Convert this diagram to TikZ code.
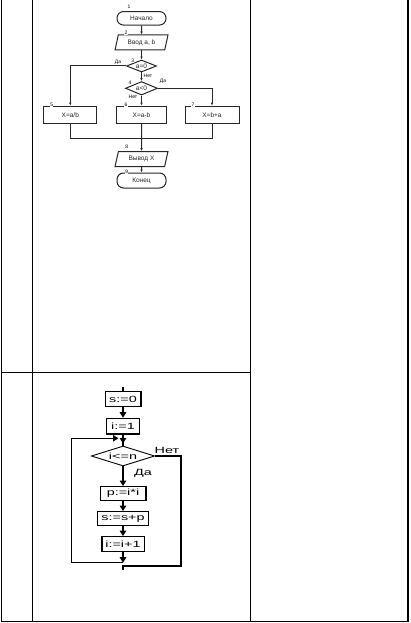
\documentclass[tikz,border=0pt]{standalone}
\usepackage{fontspec}
\setmainfont{Liberation Sans}
\newfontfamily\wideface[FakeStretch=1.6]{Liberation Sans}
\usetikzlibrary{positioning,arrows.meta,shapes.geometric,calc}

\begin{document}
\begin{tikzpicture}[
        x=1pt, y=-1pt,
        font=\fontsize{6.5}{7.5}\selectfont,
        >={Latex[length=2.8pt,width=2.4pt]},
        grid/.style={line width=1.6pt},
        wire/.style={black!85, line width=1pt},
        flow/.style={wire, ->},
        term/.style={rectangle, draw, wire, rounded corners=6.5pt,
            minimum width=49, minimum height=13.5, inner sep=0},
        io/.style={trapezium, draw, wire, trapezium left angle=72,
            trapezium right angle=108, trapezium stretches=true,
            minimum width=53, minimum height=15, inner sep=0},
        cond/.style={diamond, draw, wire, aspect=2.5, inner sep=0},
        proc/.style={rectangle, draw, wire, minimum height=17.3, inner sep=0},
        tag/.style={font=\fontsize{5}{6}\selectfont, inner sep=0},
        num/.style={font=\fontsize{5}{6}\selectfont, fill=white, inner sep=0.4pt},
        box/.style={rectangle, draw, line width=1.3pt, inner sep=1pt,
            font=\wideface\fontsize{9}{10}\selectfont},
        check/.style={diamond, draw, line width=0.9pt, aspect=3, inner sep=0,
            minimum width=63.3, minimum height=20,
            font=\wideface\fontsize{9}{10}\selectfont},
        big/.style={font=\wideface\fontsize{9}{10}\selectfont, inner sep=0},
        bline/.style={line width=1.1pt},
        bflow/.style={bline, -{Triangle[width=6.5pt,length=5.5pt]}},
    ]

        \useasboundingbox (0,0) rectangle (410,623);

        % table
        \draw[grid] (1.5,0) -- (1.5,621.5) -- (408,621.5) -- (408,0);
        \draw[grid] (32.5,0) -- (32.5,621.5);
        \draw[grid] (250.5,0) -- (250.5,621.5);
        \draw[grid] (1.5,372.3) -- (250.5,372.3);

        % first chart
        \def\midx{141.5}

        \node[term] (start) at (\midx,18.3) {Начало};
        \node[io] (input) at (\midx,42.5) {Ввод a, b};
        \node[cond, minimum width=30, minimum height=12] (isz) at (\midx,66) {a=0};
        \node[cond, minimum width=32, minimum height=13.5] (isn) at (\midx,88.3) {a<0};
        \node[proc, minimum width=52.7] (div) at (70.3,114.7) {X=a/b};
        \node[proc, minimum width=50] (sub) at (\midx,114.7) {X=a-b};
        \node[proc, minimum width=54] (add) at (212,114.7) {X=b+a};
        \coordinate (join) at (\midx,138.3);
        \node[io] (output) at (\midx,159) {Вывод X};
        \node[term, minimum height=15] (stop) at (\midx,180.5) {Конец};

        \draw[flow] (start) -- (input);
        \draw[flow] (input) -- (isz);
        \draw[flow] (isz.west) -| (div.north);
        \draw[flow] (isz) -- (isn);
        \draw[flow] (isn.east) -| (add.north);
        \draw[flow] (isn) -- (sub);
        \draw[wire] (div) |- (join) -| (add);
        \draw[flow] (sub) -- (output);
        \draw[flow] (output) -- (stop);

        \node[tag] (yes1) at (118,62) {Да};
        \node[tag] (no1) at (148,76) {Нет};
        \node[tag] (yes2) at (163,81) {Да};
        \node[tag] (no2) at (133,97) {Нет};

        \foreach \n/\px/\py in {1/129/7, 2/126/33, 3/132.7/61, 4/130/83,
            5/51.7/105, 6/126/105, 7/193/105, 8/126.7/146.7, 9/126.7/172}{
            \node[num] (num\n) at (\px,\py) {\n};
        }

        % second chart
        \def\cx{123}

        \coordinate (entry) at (\cx,386.7);
        \node[box, minimum width=35.7, minimum height=15] (sinit) at (\cx,399.2) {s:=0};
        \node[box, minimum width=33.3, minimum height=15.7] (iinit) at (\cx,426.2) {i:=1};
        \coordinate (merge) at (\cx,443.5);
        \coordinate (back) at (118.5,438.3);
        \node[check] (test) at (\cx,456) {i<=n};
        \node[box, minimum width=45.7, minimum height=13.7] (prod) at (\cx,493.5) {p:=i*i};
        \node[box, minimum width=51.3, minimum height=14] (accum) at (\cx,518.7) {s:=s+p};
        \node[box, minimum width=42.3, minimum height=15] (incr) at (\cx,544.2) {i:=i+1};
        \coordinate (tail) at (\cx,562.7);
        \coordinate (leftx) at (71.7,562.7);
        \coordinate (rightx) at (181,566);
        \coordinate (exit) at (\cx,566);
        \coordinate (exitend) at (\cx,570);

        \draw[bline] (entry) -- (sinit);
        \draw[bflow] (sinit) -- (iinit);
        \draw[bline] (iinit) -- (test);
        \draw[bflow] (iinit) -- (merge);
        \draw[bflow] (tail) -- (leftx) |- (back);
        \draw[bflow] (test) -- (prod);
        \draw[bflow] (prod) -- (accum);
        \draw[bflow] (accum) -- (incr);
        \draw[bflow] (incr) -- (tail);
        \draw[bline] (test.east) -| (rightx) -- (exit) -- (exitend);

        \node[big] (no) at (167,450) {Нет};
        \node[big] (yes) at (143,473.3) {Да};

    \end{tikzpicture}
\end{document}
